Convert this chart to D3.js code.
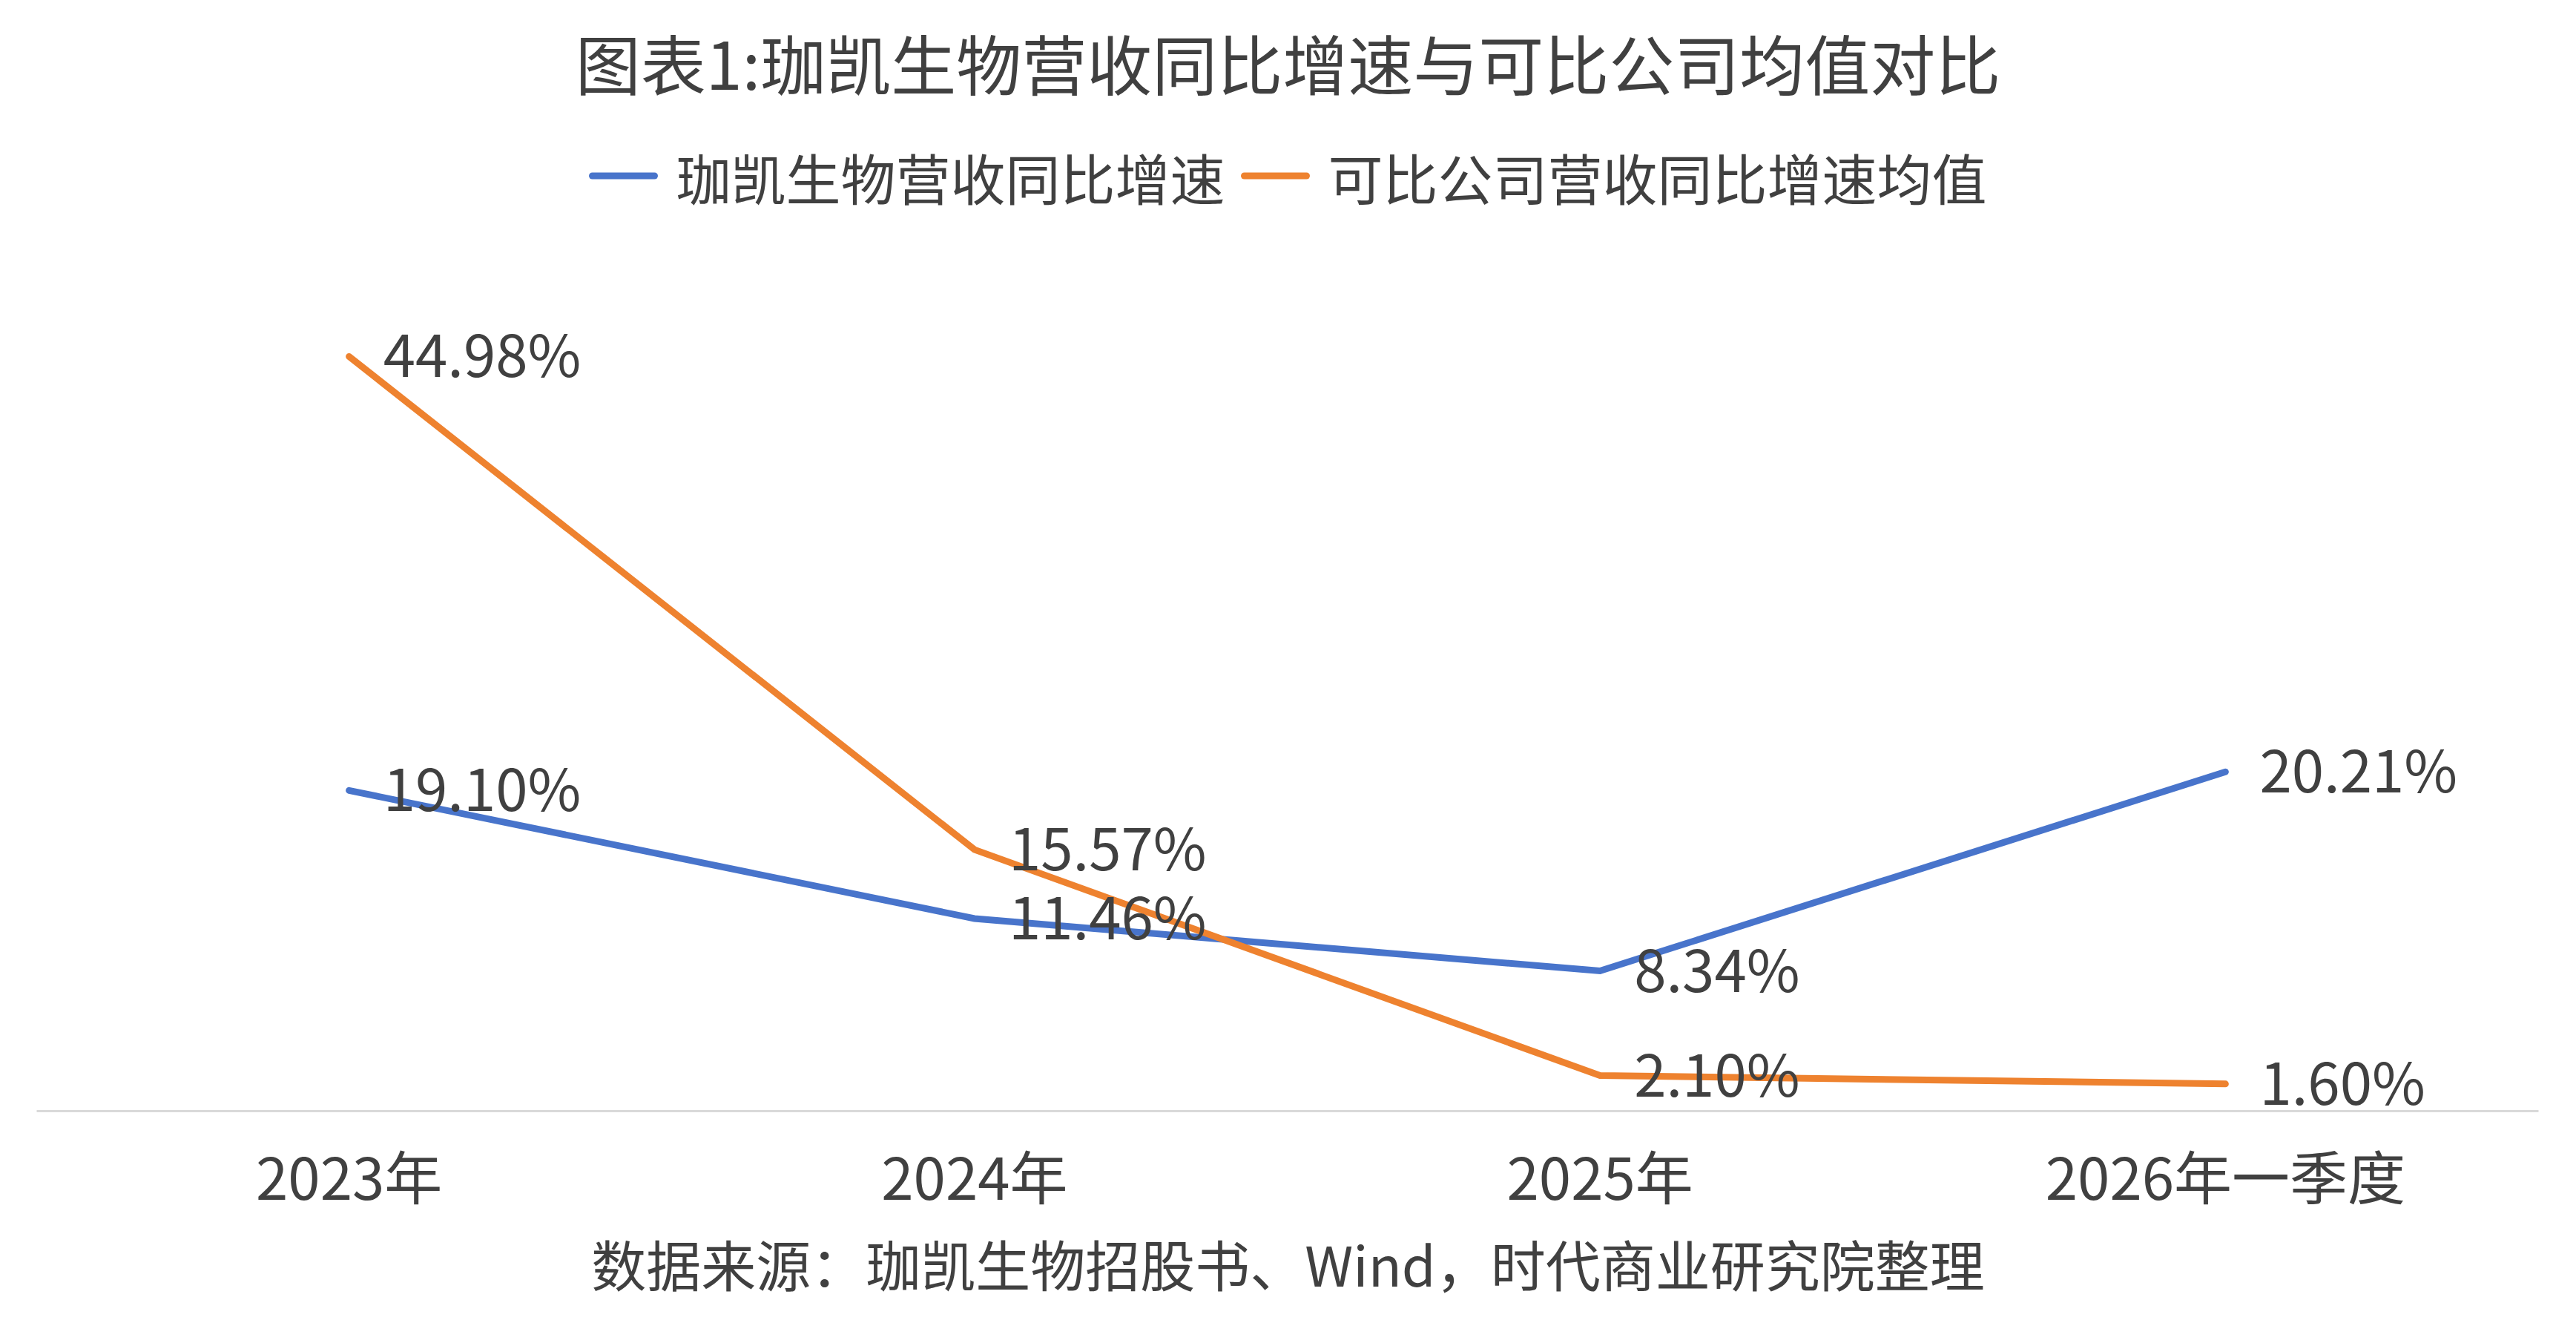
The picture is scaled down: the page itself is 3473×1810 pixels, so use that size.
<!DOCTYPE html>
<html lang="zh">
<head>
  <meta charset="UTF-8">
  <title>图表1:珈凯生物营收同比增速与可比公司均值对比</title>
  <style>
    body { margin: 0; background: #ffffff; }
    svg { display: block; font-family: "Noto Sans CJK SC", "Noto Sans", sans-serif; }
    .lbl { fill: #404040; }
  </style>
  <script src="https://cdn.jsdelivr.net/npm/d3@7/dist/d3.min.js"></script>
</head>
<body>
<svg id="chart" width="3473" height="1810"></svg>
<script>
/* global d3 */
// data
let categories = ["2023年", "2024年", "2025年", "2026年一季度"]
let jiakaiGrowth = [19.10, 11.46, 8.34, 20.21]
let peerGrowth = [44.98, 15.57, 2.10, 1.60]
let seriesNames = ["珈凯生物营收同比增速", "可比公司营收同比增速均值"]
let titleText = "图表1:珈凯生物营收同比增速与可比公司均值对比"
let sourceText = "数据来源：珈凯生物招股书、Wind，时代商业研究院整理"

let colors = ["#4874CB", "#EE822F"]
let W = 3473

let svg = d3.select("#chart")

let x = d3.scaleBand()
  .domain(categories)
  .range([49, 3422])

let y = d3.scaleLinear()
  .domain([0, 50])
  .range([1497, 367])

// title
svg.append("text")
  .attr("class", "lbl")
  .attr("x", W / 2)
  .attr("y", 82)
  .attr("text-anchor", "middle")
  .attr("dominant-baseline", "central")
  .style("font-size", "88px")
  .text(titleText)

// legend, centred
let legend = svg.append("g")
let lx = 0
seriesNames.forEach((name, i) => {
  let item = legend.append("g").attr("transform", `translate(${lx},0)`)
  item.append("line")
    .attr("x1", 4).attr("x2", 88)
    .attr("y1", 0).attr("y2", 0)
    .attr("stroke", colors[i])
    .attr("stroke-width", 9)
    .attr("stroke-linecap", "round")
  let t = item.append("text")
    .attr("class", "lbl")
    .attr("x", 117)
    .attr("y", 0)
    .attr("dominant-baseline", "central")
    .style("font-size", "74px")
    .text(name)
  lx += 117 + t.node().getComputedTextLength() + 22
})
let legendW = lx - 22
legend.attr("transform", `translate(${(W - legendW) / 2},237)`)

// axis
let xAxis = d3.axisBottom(x).tickSize(0).tickPadding(0)
let gx = svg.append("g")
  .attr("transform", `translate(0,${y(0)})`)
  .call(xAxis)
gx.select(".domain")
  .attr("stroke", "#D9D9D9")
  .attr("stroke-width", 3)
gx.selectAll(".tick text")
  .attr("fill", "#404040")
  .attr("y", 86)
  .attr("dy", null)
  .attr("dominant-baseline", "central")
  .style("font-size", "78px")
  .style("font-family", "\"Noto Sans CJK SC\", sans-serif")

// lines
let line = d3.line()
  .x((d, i) => x(categories[i]) + x.bandwidth() / 2)
  .y(d => y(d))

let series = [jiakaiGrowth, peerGrowth]
series.forEach((vals, s) => {
  svg.append("path")
    .datum(vals)
    .attr("fill", "none")
    .attr("stroke", colors[s])
    .attr("stroke-width", 9)
    .attr("stroke-linecap", "round")
    .attr("stroke-linejoin", "miter")
    .attr("d", line)
})

// data labels
series.forEach((vals, s) => {
  svg.selectAll(".dl" + s)
    .data(vals)
    .join("text")
    .attr("class", "lbl dl" + s)
    .attr("x", (d, i) => x(categories[i]) + x.bandwidth() / 2 + 46)
    .attr("y", d => y(d) - 6)
    .attr("dominant-baseline", "central")
    .style("font-size", "78px")
    .text(d => d.toFixed(2) + "%")
})

// source note
svg.append("text")
  .attr("class", "lbl")
  .attr("x", W / 2)
  .attr("y", 1701)
  .attr("text-anchor", "middle")
  .attr("dominant-baseline", "central")
  .style("font-size", "74px")
  .text(sourceText)
</script>
</body>
</html>
